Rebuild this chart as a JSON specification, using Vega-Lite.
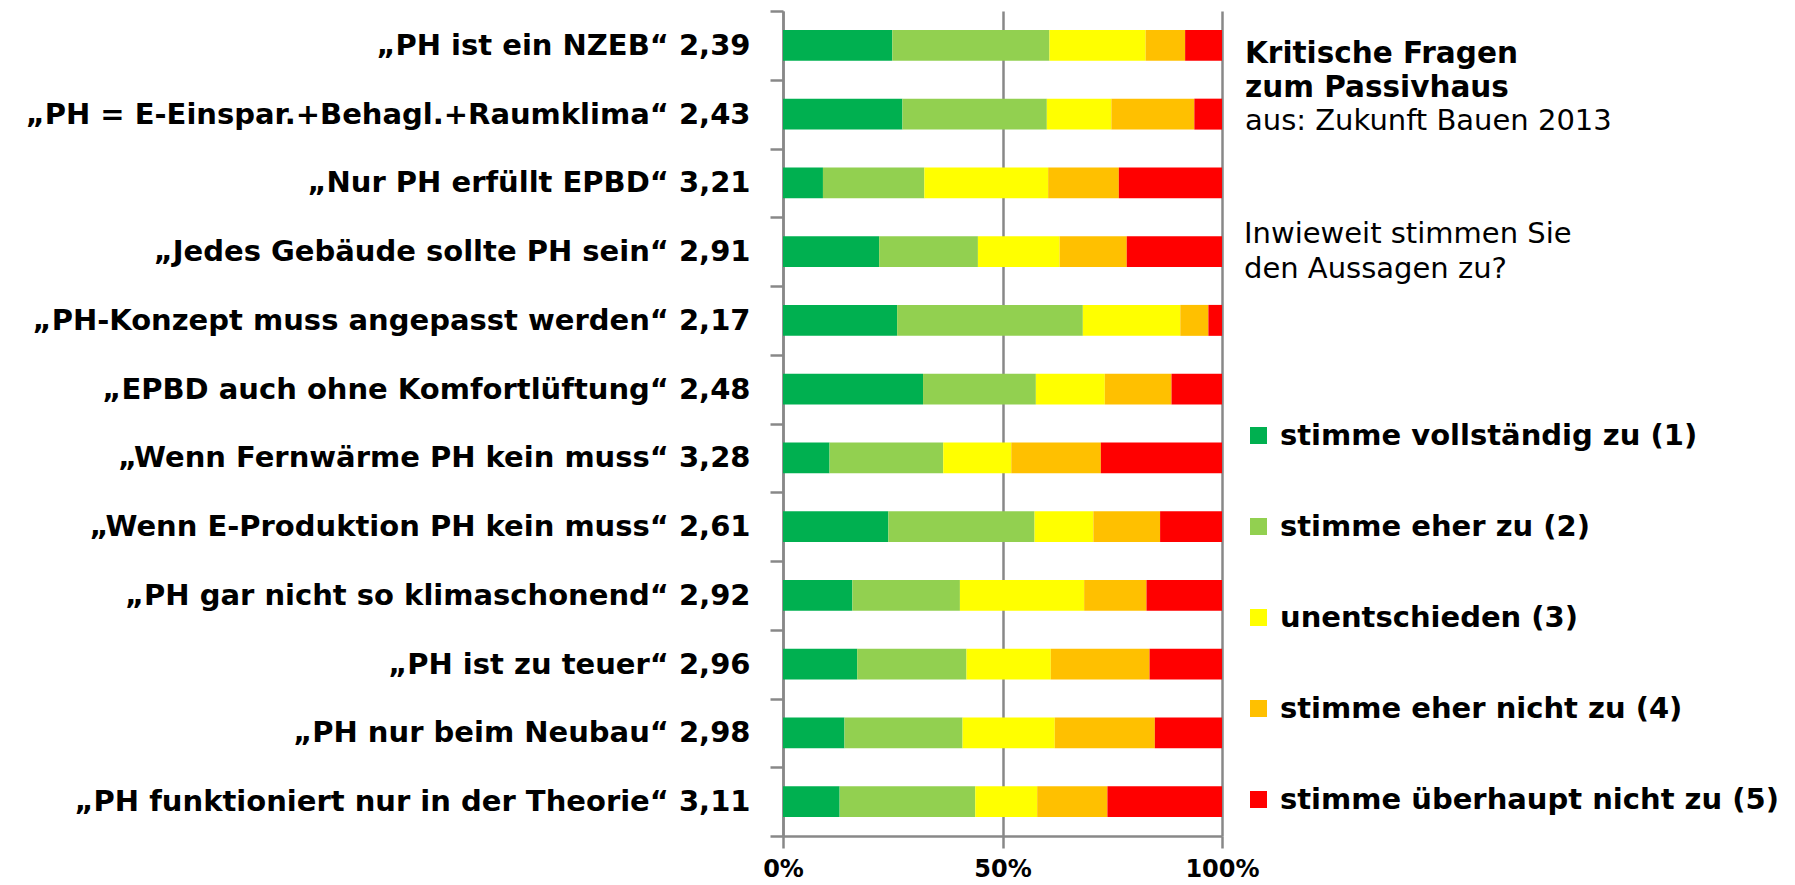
{
  "$schema": "https://vega.github.io/schema/vega-lite/v6.json",
  "autosize": {"type": "none"},
  "width": 439,
  "height": 825,
  "padding": {"left": 783, "top": 11, "right": 573, "bottom": 49},
  "background": "white",
  "title": {
    "text": ["Kritische Fragen", "zum Passivhaus"],
    "subtitle": ["aus: Zukunft Bauen 2013"],
    "orient": "top",
    "anchor": "start",
    "frame": "group",
    "offset": 0,
    "dx": 462,
    "dy": 140,
    "font": "DejaVu Sans",
    "fontSize": 29.5,
    "fontWeight": "bold",
    "color": "black",
    "lineHeight": 34,
    "subtitleFont": "DejaVu Sans",
    "subtitleFontSize": 29,
    "subtitleFontWeight": "normal",
    "subtitleColor": "black",
    "subtitleLineHeight": 34,
    "subtitlePadding": 4
  },
  "data": {
    "values": [
      {"q": "„PH ist ein NZEB“ 2,39", "a": "stimme vollständig zu (1)", "k": 1, "v": 24.9},
      {"q": "„PH ist ein NZEB“ 2,39", "a": "stimme eher zu (2)", "k": 2, "v": 35.8},
      {"q": "„PH ist ein NZEB“ 2,39", "a": "unentschieden (3)", "k": 3, "v": 21.9},
      {"q": "„PH ist ein NZEB“ 2,39", "a": "stimme eher nicht zu (4)", "k": 4, "v": 9.0},
      {"q": "„PH ist ein NZEB“ 2,39", "a": "stimme überhaupt nicht zu (5)", "k": 5, "v": 8.4},
      {"q": "„PH = E-Einspar.+Behagl.+Raumklima“ 2,43", "a": "stimme vollständig zu (1)", "k": 1, "v": 27.2},
      {"q": "„PH = E-Einspar.+Behagl.+Raumklima“ 2,43", "a": "stimme eher zu (2)", "k": 2, "v": 32.9},
      {"q": "„PH = E-Einspar.+Behagl.+Raumklima“ 2,43", "a": "unentschieden (3)", "k": 3, "v": 14.7},
      {"q": "„PH = E-Einspar.+Behagl.+Raumklima“ 2,43", "a": "stimme eher nicht zu (4)", "k": 4, "v": 18.9},
      {"q": "„PH = E-Einspar.+Behagl.+Raumklima“ 2,43", "a": "stimme überhaupt nicht zu (5)", "k": 5, "v": 6.3},
      {"q": "„Nur PH erfüllt EPBD“ 3,21", "a": "stimme vollständig zu (1)", "k": 1, "v": 9.1},
      {"q": "„Nur PH erfüllt EPBD“ 3,21", "a": "stimme eher zu (2)", "k": 2, "v": 23.1},
      {"q": "„Nur PH erfüllt EPBD“ 3,21", "a": "unentschieden (3)", "k": 3, "v": 28.2},
      {"q": "„Nur PH erfüllt EPBD“ 3,21", "a": "stimme eher nicht zu (4)", "k": 4, "v": 16.1},
      {"q": "„Nur PH erfüllt EPBD“ 3,21", "a": "stimme überhaupt nicht zu (5)", "k": 5, "v": 23.5},
      {"q": "„Jedes Gebäude sollte PH sein“ 2,91", "a": "stimme vollständig zu (1)", "k": 1, "v": 21.9},
      {"q": "„Jedes Gebäude sollte PH sein“ 2,91", "a": "stimme eher zu (2)", "k": 2, "v": 22.5},
      {"q": "„Jedes Gebäude sollte PH sein“ 2,91", "a": "unentschieden (3)", "k": 3, "v": 18.6},
      {"q": "„Jedes Gebäude sollte PH sein“ 2,91", "a": "stimme eher nicht zu (4)", "k": 4, "v": 15.3},
      {"q": "„Jedes Gebäude sollte PH sein“ 2,91", "a": "stimme überhaupt nicht zu (5)", "k": 5, "v": 21.7},
      {"q": "„PH-Konzept muss angepasst werden“ 2,17", "a": "stimme vollständig zu (1)", "k": 1, "v": 26.0},
      {"q": "„PH-Konzept muss angepasst werden“ 2,17", "a": "stimme eher zu (2)", "k": 2, "v": 42.3},
      {"q": "„PH-Konzept muss angepasst werden“ 2,17", "a": "unentschieden (3)", "k": 3, "v": 22.2},
      {"q": "„PH-Konzept muss angepasst werden“ 2,17", "a": "stimme eher nicht zu (4)", "k": 4, "v": 6.4},
      {"q": "„PH-Konzept muss angepasst werden“ 2,17", "a": "stimme überhaupt nicht zu (5)", "k": 5, "v": 3.1},
      {"q": "„EPBD auch ohne Komfortlüftung“ 2,48", "a": "stimme vollständig zu (1)", "k": 1, "v": 31.9},
      {"q": "„EPBD auch ohne Komfortlüftung“ 2,48", "a": "stimme eher zu (2)", "k": 2, "v": 25.7},
      {"q": "„EPBD auch ohne Komfortlüftung“ 2,48", "a": "unentschieden (3)", "k": 3, "v": 15.7},
      {"q": "„EPBD auch ohne Komfortlüftung“ 2,48", "a": "stimme eher nicht zu (4)", "k": 4, "v": 15.2},
      {"q": "„EPBD auch ohne Komfortlüftung“ 2,48", "a": "stimme überhaupt nicht zu (5)", "k": 5, "v": 11.5},
      {"q": "„Wenn Fernwärme PH kein muss“ 3,28", "a": "stimme vollständig zu (1)", "k": 1, "v": 10.6},
      {"q": "„Wenn Fernwärme PH kein muss“ 3,28", "a": "stimme eher zu (2)", "k": 2, "v": 25.9},
      {"q": "„Wenn Fernwärme PH kein muss“ 3,28", "a": "unentschieden (3)", "k": 3, "v": 15.5},
      {"q": "„Wenn Fernwärme PH kein muss“ 3,28", "a": "stimme eher nicht zu (4)", "k": 4, "v": 20.4},
      {"q": "„Wenn Fernwärme PH kein muss“ 3,28", "a": "stimme überhaupt nicht zu (5)", "k": 5, "v": 27.6},
      {"q": "„Wenn E-Produktion PH kein muss“ 2,61", "a": "stimme vollständig zu (1)", "k": 1, "v": 24.0},
      {"q": "„Wenn E-Produktion PH kein muss“ 2,61", "a": "stimme eher zu (2)", "k": 2, "v": 33.3},
      {"q": "„Wenn E-Produktion PH kein muss“ 2,61", "a": "unentschieden (3)", "k": 3, "v": 13.4},
      {"q": "„Wenn E-Produktion PH kein muss“ 2,61", "a": "stimme eher nicht zu (4)", "k": 4, "v": 15.2},
      {"q": "„Wenn E-Produktion PH kein muss“ 2,61", "a": "stimme überhaupt nicht zu (5)", "k": 5, "v": 14.1},
      {"q": "„PH gar nicht so klimaschonend“ 2,92", "a": "stimme vollständig zu (1)", "k": 1, "v": 15.8},
      {"q": "„PH gar nicht so klimaschonend“ 2,92", "a": "stimme eher zu (2)", "k": 2, "v": 24.5},
      {"q": "„PH gar nicht so klimaschonend“ 2,92", "a": "unentschieden (3)", "k": 3, "v": 28.3},
      {"q": "„PH gar nicht so klimaschonend“ 2,92", "a": "stimme eher nicht zu (4)", "k": 4, "v": 14.2},
      {"q": "„PH gar nicht so klimaschonend“ 2,92", "a": "stimme überhaupt nicht zu (5)", "k": 5, "v": 17.2},
      {"q": "„PH ist zu teuer“ 2,96", "a": "stimme vollständig zu (1)", "k": 1, "v": 16.9},
      {"q": "„PH ist zu teuer“ 2,96", "a": "stimme eher zu (2)", "k": 2, "v": 24.9},
      {"q": "„PH ist zu teuer“ 2,96", "a": "unentschieden (3)", "k": 3, "v": 19.2},
      {"q": "„PH ist zu teuer“ 2,96", "a": "stimme eher nicht zu (4)", "k": 4, "v": 22.5},
      {"q": "„PH ist zu teuer“ 2,96", "a": "stimme überhaupt nicht zu (5)", "k": 5, "v": 16.5},
      {"q": "„PH nur beim Neubau“ 2,98", "a": "stimme vollständig zu (1)", "k": 1, "v": 14.0},
      {"q": "„PH nur beim Neubau“ 2,98", "a": "stimme eher zu (2)", "k": 2, "v": 26.9},
      {"q": "„PH nur beim Neubau“ 2,98", "a": "unentschieden (3)", "k": 3, "v": 21.0},
      {"q": "„PH nur beim Neubau“ 2,98", "a": "stimme eher nicht zu (4)", "k": 4, "v": 22.8},
      {"q": "„PH nur beim Neubau“ 2,98", "a": "stimme überhaupt nicht zu (5)", "k": 5, "v": 15.3},
      {"q": "„PH funktioniert nur in der Theorie“ 3,11", "a": "stimme vollständig zu (1)", "k": 1, "v": 12.9},
      {"q": "„PH funktioniert nur in der Theorie“ 3,11", "a": "stimme eher zu (2)", "k": 2, "v": 30.9},
      {"q": "„PH funktioniert nur in der Theorie“ 3,11", "a": "unentschieden (3)", "k": 3, "v": 14.1},
      {"q": "„PH funktioniert nur in der Theorie“ 3,11", "a": "stimme eher nicht zu (4)", "k": 4, "v": 16.0},
      {"q": "„PH funktioniert nur in der Theorie“ 3,11", "a": "stimme überhaupt nicht zu (5)", "k": 5, "v": 26.1}
    ]
  },
  "mark": {"type": "bar", "strokeWidth": 0, "height": {"band": 0.45}},
  "encoding": {
    "y": {
      "field": "q",
      "type": "nominal",
      "sort": null,
      "scale": {"paddingInner": 0, "paddingOuter": 0},
      "axis": {
        "title": null,
        "tickBand": "extent",
        "tickSize": 13,
        "tickWidth": 2.5,
        "tickColor": "#888888",
        "domainColor": "#888888",
        "domainWidth": 2.5,
        "labelFont": "DejaVu Sans",
        "labelFontSize": 29,
        "labelFontWeight": "bold",
        "labelColor": "black",
        "labelPadding": 20,
        "labelLimit": 900
      }
    },
    "x": {
      "field": "v",
      "type": "quantitative",
      "stack": "normalize",
      "scale": {"domain": [0, 1], "nice": false},
      "axis": {
        "title": null,
        "values": [0, 0.5, 1],
        "format": ".0%",
        "grid": true,
        "gridColor": "#888888",
        "gridWidth": 2.5,
        "tickSize": 12,
        "tickWidth": 2.5,
        "tickColor": "#888888",
        "domainColor": "#888888",
        "domainWidth": 2.5,
        "labelFont": "DejaVu Sans",
        "labelFontSize": 24,
        "labelFontWeight": "bold",
        "labelColor": "black",
        "labelPadding": 9,
        "labelFlush": false
      }
    },
    "color": {
      "field": "a",
      "type": "nominal",
      "scale": {
        "domain": ["stimme vollständig zu (1)", "stimme eher zu (2)", "unentschieden (3)", "stimme eher nicht zu (4)", "stimme überhaupt nicht zu (5)"],
        "range": ["#00B050", "#92D050", "#FFFF00", "#FFC000", "#FF0000"]
      },
      "legend": {
        "title": ["Inwieweit stimmen Sie", "den Aussagen zu?"],
        "titleFont": "DejaVu Sans",
        "titleFontSize": 29,
        "titleFontWeight": "normal",
        "titleColor": "black",
        "titleLineHeight": 35,
        "titlePadding": 137,
        "titleLimit": 600,
        "orient": "none",
        "legendX": 461,
        "legendY": 209,
        "padding": 0,
        "symbolType": "square",
        "symbolSize": 289,
        "symbolStrokeWidth": 0,
        "symbolOpacity": 1,
        "labelFont": "DejaVu Sans",
        "labelFontSize": 29,
        "labelFontWeight": "bold",
        "labelColor": "black",
        "labelOffset": 7,
        "labelLimit": 700,
        "rowPadding": 61
      }
    },
    "order": {"field": "k", "type": "quantitative"}
  },
  "config": {"view": {"stroke": null}}
}
